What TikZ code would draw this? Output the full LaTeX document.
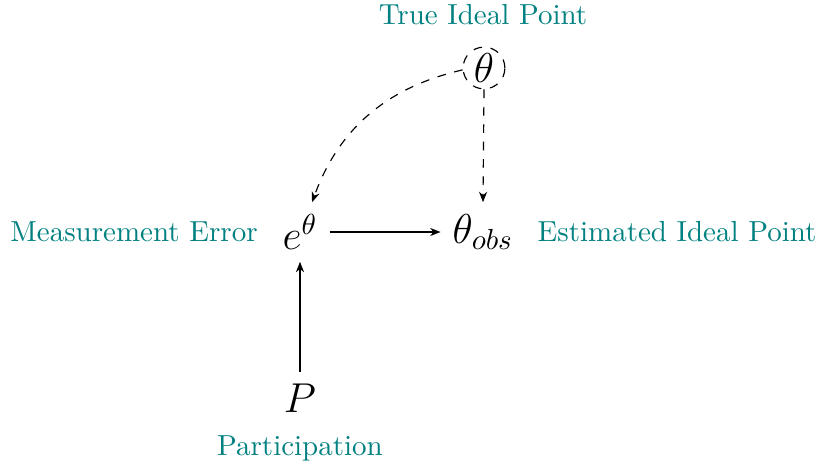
\documentclass[tikz,border=0pt]{standalone}
\usetikzlibrary{arrows.meta}
\definecolor{lblteal}{RGB}{0,128,128}
\begin{document}
\begin{tikzpicture}[x=0.345pt,y=-0.345pt,
  var/.style={inner sep=4pt,font=\Large},
  lbl/.style={text=lblteal,inner sep=0pt},
  arr/.style={-{Stealth[length=3.6pt,width=2.8pt]},line width=0.4pt},
  darr/.style={arr,dashed}]
\useasboundingbox (0,0) rectangle (818,465);
\node[var,circle,dashed,draw,line width=0.4pt,inner sep=0.8pt,minimum size=13.6pt] (th) at (484,68) {$\theta$};
\node[var] (e) at (300,232) {$e^{\theta}$};
\node[var] (obs) at (483,232) {$\theta_{obs}$};
\node[var] (p) at (300,398) {$P$};
\node[lbl] (l1) at (483,15) {True Ideal Point};
\node[lbl] (l2) at (134,232) {Measurement Error};
\node[lbl] (l3) at (677,232) {Estimated Ideal Point};
\node[lbl] (l4) at (300,448) {Participation};
\draw[darr] (th.185) to[out=193,in=70] (e.68);
\draw[darr] (th.south) -- (obs.north);
\draw[arr] (e.east) -- (obs.west);
\draw[arr] (p.north) -- (e.south);
\end{tikzpicture}
\end{document}
